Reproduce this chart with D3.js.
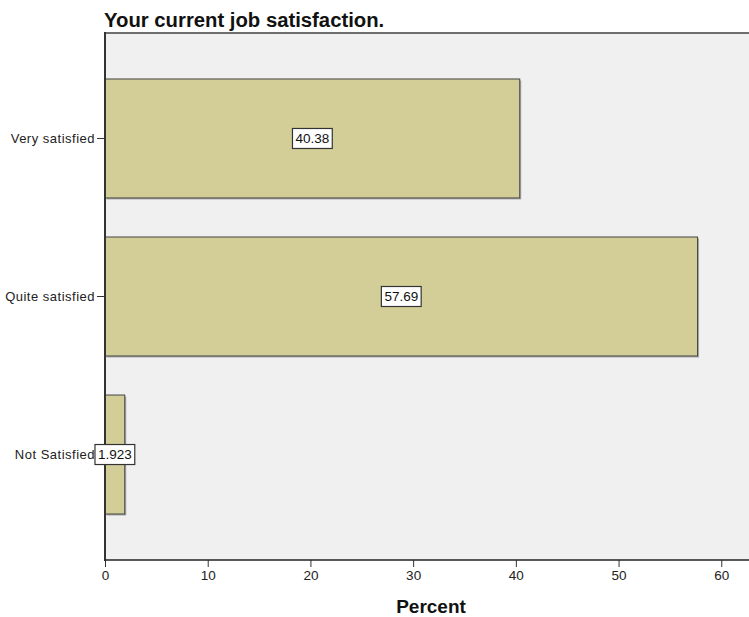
<!DOCTYPE html>
<html><head><meta charset="utf-8">
<script src="https://cdn.jsdelivr.net/npm/d3@7"></script>
<style>body{margin:0;background:#fff;} svg{display:block;font-family:"Liberation Sans",Arial,sans-serif;}</style>
</head><body>
<svg id="c" width="749" height="617"></svg>
<script>
const categories = ["Very satisfied", "Quite satisfied", "Not Satisfied"];
const percents = [40.38, 57.69, 1.923];
const labels = ["40.38", "57.69", "1.923"];
const xTicks = [0, 10, 20, 30, 40, 50, 60];
const title = "Your current job satisfaction.";
const xTitle = "Percent";

const svg = d3.select("#c");
const L = 105, R = 749, T = 33, B = 560;
const x = d3.scaleLinear().domain([0, 62.7]).range([L, R]);
const y = d3.scaleBand().domain(categories).range([T, B]).paddingInner(0.247).paddingOuter(0.291);

svg.append("rect").attr("x", L).attr("y", T).attr("width", R - L + 2).attr("height", B - T)
  .attr("fill", "#f0f0f0");
svg.append("line").attr("x1", L).attr("x2", R).attr("y1", T).attr("y2", T)
  .attr("stroke", "#6e6e6e").attr("stroke-width", 2);

svg.append("text").attr("x", L - 1).attr("y", 27).attr("font-size", 20.3).attr("font-weight", "bold")
  .attr("fill", "#111").text(title);

// shadows
svg.selectAll("rect.sh").data(categories).join("rect")
  .attr("x", L + 1.5).attr("y", d => y(d) + 1.5)
  .attr("width", (d, i) => x(percents[i]) - L).attr("height", y.bandwidth())
  .attr("fill", "#aaa");
svg.selectAll("rect.bar").data(categories).join("rect")
  .attr("x", L).attr("y", d => y(d))
  .attr("width", (d, i) => x(percents[i]) - L).attr("height", y.bandwidth())
  .attr("fill", "#d3ce98").attr("stroke", "#444").attr("stroke-width", 1);

// y axis
const ya = svg.append("g").attr("transform", `translate(${L},0)`)
  .call(d3.axisLeft(y).tickSize(8).tickPadding(2));
ya.select(".domain").remove();
ya.selectAll("line").attr("stroke", "#333");
ya.selectAll("text").attr("font-size", 13).attr("letter-spacing", 0.5).attr("fill", "#222")
  .attr("font-family", "Liberation Sans, Arial, sans-serif");
svg.append("line").attr("x1", L).attr("x2", L).attr("y1", T - 1).attr("y2", B + 1).attr("stroke", "#333").attr("stroke-width", 2);

// x axis
const xa = svg.append("g").attr("transform", `translate(0,${B})`)
  .call(d3.axisBottom(x).tickValues(xTicks).tickSize(7).tickPadding(3));
xa.select(".domain").remove();
xa.selectAll("line").attr("stroke", "#333");
xa.selectAll("text").attr("font-size", 13.5).attr("fill", "#222").attr("font-family", "Liberation Sans, Arial, sans-serif");
svg.append("line").attr("x1", L).attr("x2", R).attr("y1", B).attr("y2", B).attr("stroke", "#222").attr("stroke-width", 1.5);

svg.append("text").attr("x", 431).attr("y", 613).attr("text-anchor", "middle")
  .attr("font-size", 19).attr("font-weight", "bold").attr("fill", "#111").text(xTitle);

// value labels
const g = svg.selectAll("g.lab").data(categories).join("g")
  .attr("transform", (d, i) => `translate(${(L + x(percents[i])) / 2},${y(d) + y.bandwidth() / 2})`);
g.each(function(d, i) {
  const s = d3.select(this);
  const t = s.append("text").attr("text-anchor", "middle").attr("dy", "0.36em")
    .attr("font-size", 13.5).attr("fill", "#111").text(labels[i]);
  const bb = t.node().getBBox();
  s.insert("rect", "text").attr("x", bb.x - 3).attr("y", -10).attr("width", bb.width + 6).attr("height", 20)
    .attr("fill", "#fff").attr("stroke", "#333").attr("stroke-width", 1.2);
});
</script>
</body></html>
